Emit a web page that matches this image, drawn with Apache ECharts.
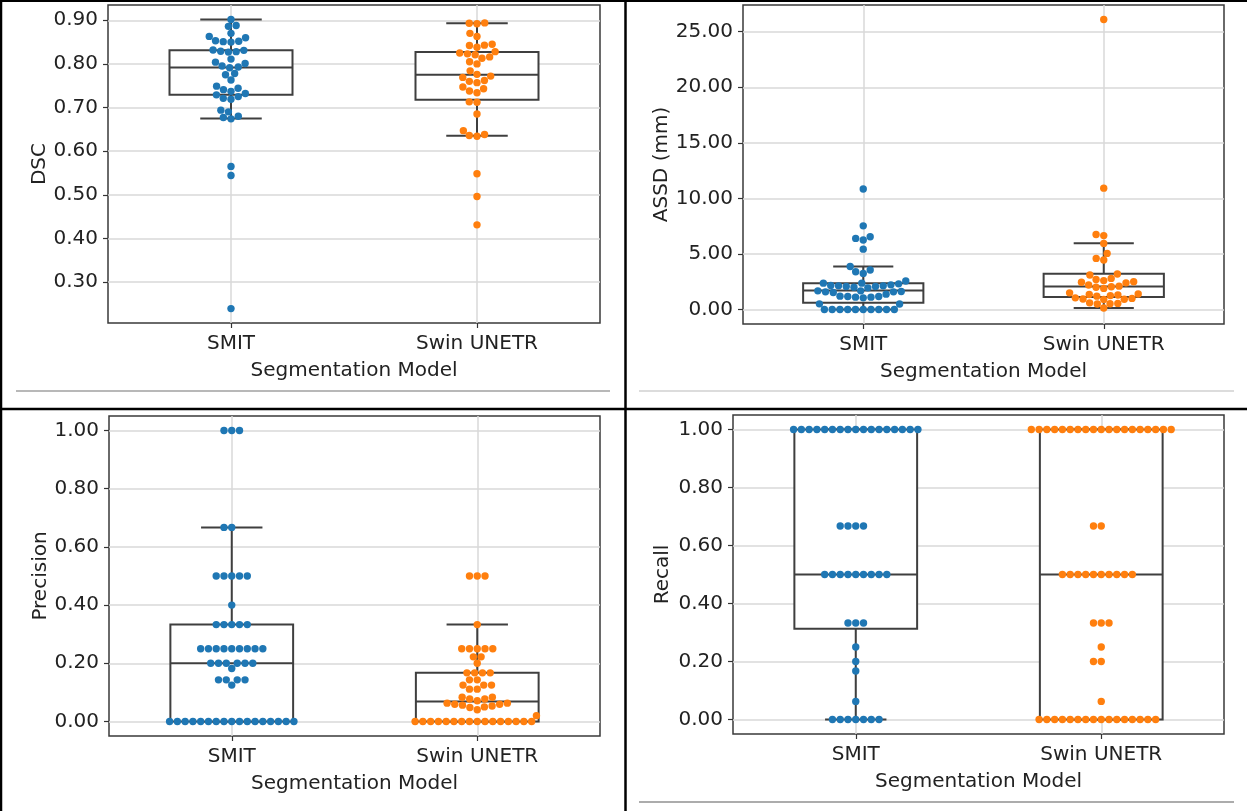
<!DOCTYPE html>
<html>
<head>
<meta charset="utf-8">
<script src="https://cdn.jsdelivr.net/npm/echarts@6/dist/echarts.min.js"></script>
<style>
  html, body { margin: 0; padding: 0; background: #fff; }
  #chart { width: 1247px; height: 811px; }
</style>
</head>
<body>
<div id="chart"></div>
<script>
var categories = ['SMIT', 'Swin UNETR'];

// DSC
var dscSmit = [0.902, 0.888, 0.886, 0.870, 0.863, 0.860, 0.852, 0.851, 0.853, 0.850, 0.831, 0.829, 0.828, 0.827, 0.832,
    0.811, 0.804, 0.801, 0.795, 0.793, 0.791, 0.778, 0.775, 0.763, 0.749, 0.744, 0.741, 0.737, 0.732, 0.729,
    0.725, 0.721, 0.719, 0.694, 0.690, 0.680, 0.677, 0.674, 0.565, 0.544, 0.239];
var dscSwin = [0.894, 0.893, 0.892, 0.870, 0.863, 0.845, 0.843, 0.842, 0.838, 0.828, 0.825, 0.823, 0.821, 0.816, 0.813,
    0.805, 0.800, 0.784, 0.776, 0.772, 0.769, 0.762, 0.760, 0.757, 0.747, 0.743, 0.738, 0.734, 0.713, 0.712,
    0.685, 0.647, 0.638, 0.636, 0.634, 0.548, 0.496, 0.431];
var dscBox = [[0.675, 0.729, 0.792, 0.831, 0.902], [0.635, 0.718, 0.775, 0.827, 0.893]];
var dscTicks = [0.3, 0.4, 0.5, 0.6, 0.7, 0.8, 0.9];

// ASSD (mm)
var assdSmit = [10.85, 7.53, 6.55, 6.40, 6.25, 5.43, 3.87, 3.55, 3.40, 3.25, 2.57, 2.37, 2.31, 2.16, 2.22, 2.37,
    2.13, 2.07, 2.07, 2.01, 2.13, 1.95, 1.38, 1.62, 1.59, 1.53, 1.59, 1.68, 1.68, 1.11, 1.05, 1.11, 1.17, 1.20,
    1.17, 0.51, 0.49, 0, 0, 0, 0, 0, 0, 0, 0, 0, 0];
var assdSwin = [26.10, 10.92, 6.75, 6.65, 5.95, 5.05, 4.60, 4.45, 3.20, 3.10, 2.80, 2.70, 2.60, 2.50, 2.45, 2.40,
    2.20, 2.10, 2.05, 2.00, 1.90, 1.50, 1.40, 1.35, 1.30, 1.25, 1.20, 1.05, 1.00, 0.95, 0.92, 0.90, 0.60, 0.55,
    0.52, 0.50, 0.13];
var assdBox = [[0, 0.60, 1.71, 2.37, 3.87], [0.13, 1.12, 2.07, 3.21, 5.97]];
var assdTicks = [0, 5, 10, 15, 20, 25];

// Precision
var precSmit = [1, 1, 1, 0.667, 0.667, 0.5, 0.5, 0.5, 0.5, 0.5, 0.4, 0.333, 0.333, 0.333, 0.333, 0.333,
    0.25, 0.25, 0.25, 0.25, 0.25, 0.25, 0.25, 0.25, 0.25, 0.2, 0.2, 0.2, 0.2, 0.2, 0.2, 0.182,
    0.143, 0.143, 0.143, 0.143, 0.125,
    0, 0, 0, 0, 0, 0, 0, 0, 0, 0, 0, 0, 0, 0, 0, 0, 0];
var precSwin = [0.5, 0.5, 0.5, 0.333, 0.25, 0.25, 0.25, 0.25, 0.25, 0.222, 0.222, 0.2, 0.167, 0.167, 0.167, 0.167,
    0.143, 0.143, 0.125, 0.125, 0.125, 0.111, 0.111, 0.083, 0.083, 0.077, 0.077, 0.071,
    0.063, 0.063, 0.059, 0.059, 0.056, 0.053, 0.050, 0.048, 0.040, 0.020,
    0, 0, 0, 0, 0, 0, 0, 0, 0, 0, 0, 0, 0, 0, 0, 0];
var precBox = [[0, 0, 0.20, 0.333, 0.667], [0, 0, 0.069, 0.167, 0.333]];
var precTicks = [0, 0.2, 0.4, 0.6, 0.8, 1.0];

// Recall
var recSmit = [1, 1, 1, 1, 1, 1, 1, 1, 1, 1, 1, 1, 1, 1, 1, 1, 1, 0.667, 0.667, 0.667, 0.667,
    0.5, 0.5, 0.5, 0.5, 0.5, 0.5, 0.5, 0.5, 0.5, 0.333, 0.333, 0.333, 0.25, 0.2, 0.167, 0.0625,
    0, 0, 0, 0, 0, 0, 0];
var recSwin = [1, 1, 1, 1, 1, 1, 1, 1, 1, 1, 1, 1, 1, 1, 1, 1, 1, 1, 1, 0.667, 0.667,
    0.5, 0.5, 0.5, 0.5, 0.5, 0.5, 0.5, 0.5, 0.5, 0.5, 0.333, 0.333, 0.333, 0.25, 0.2, 0.2, 0.0625,
    0, 0, 0, 0, 0, 0, 0, 0, 0, 0, 0, 0, 0, 0, 0, 0];
var recBox = [[0, 0.313, 0.5, 1.0, 1.0], [0, 0, 0.5, 1.0, 1.0]];
var recTicks = [0, 0.2, 0.4, 0.6, 0.8, 1.0];

var panels = [
    {name: 'DSC', smit: dscSmit, swin: dscSwin, box: dscBox, ticks: dscTicks, min: 0.206, max: 0.935,
        grid: {left: 108, top: 5, width: 492, height: 318}, nameGap: 58},
    {name: 'ASSD (mm)', smit: assdSmit, swin: assdSwin, box: assdBox, ticks: assdTicks, min: -1.305, max: 27.405,
        grid: {left: 743, top: 5, width: 481, height: 319}, nameGap: 71},
    {name: 'Precision', smit: precSmit, swin: precSwin, box: precBox, ticks: precTicks, min: -0.05, max: 1.05,
        grid: {left: 109, top: 416, width: 491, height: 320}, nameGap: 58},
    {name: 'Recall', smit: recSmit, swin: recSwin, box: recBox, ticks: recTicks, min: -0.05, max: 1.05,
        grid: {left: 733, top: 415, width: 491, height: 319}, nameGap: 60}
];

var BLUE = '#1f77b4', ORANGE = '#ff7f0e';
var TEXT = '#222222', EDGE = '#3f3f3f';
var FONT = 'DejaVu Sans';
var FS = 20;
var DOT = 7.4;

var chart = echarts.init(document.getElementById('chart'));

function renderBox(params, api) {
    var x = api.value(0);
    var lo = api.coord([x, api.value(1)]);
    var q1 = api.coord([x, api.value(2)]);
    var md = api.coord([x, api.value(3)]);
    var q3 = api.coord([x, api.value(4)]);
    var hi = api.coord([x, api.value(5)]);
    var w = api.size([0.5, 0])[0];
    var cx = lo[0];
    var st = {stroke: EDGE, lineWidth: 2, fill: null};
    return {
        type: 'group',
        children: [
            {type: 'line', shape: {x1: cx, y1: q1[1], x2: cx, y2: lo[1]}, style: st},
            {type: 'line', shape: {x1: cx, y1: q3[1], x2: cx, y2: hi[1]}, style: st},
            {type: 'line', shape: {x1: cx - w / 4, y1: lo[1], x2: cx + w / 4, y2: lo[1]}, style: st},
            {type: 'line', shape: {x1: cx - w / 4, y1: hi[1], x2: cx + w / 4, y2: hi[1]}, style: st},
            {type: 'rect', shape: {x: cx - w / 2, y: q3[1], width: w, height: q1[1] - q3[1]},
                style: {fill: '#fff', stroke: EDGE, lineWidth: 2}},
            {type: 'line', shape: {x1: cx - w / 2, y1: md[1], x2: cx + w / 2, y2: md[1]}, style: st}
        ]
    };
}

// seaborn-like beeswarm, done in pixel space then mapped back through the axis
function swarm(values, center, g) {
    var cx = chart.convertToPixel({gridIndex: g}, [center, 0])[0];
    var pxPerUnit = chart.convertToPixel({gridIndex: g}, [center + 1, 0])[0] - cx;
    var pts = values.map(function (v) {
        return {v: v, y: chart.convertToPixel({gridIndex: g}, [center, v])[1], x: cx};
    });
    pts.sort(function (a, b) { return b.y - a.y; });
    var placed = [];
    pts.forEach(function (p) {
        var nb = [];
        for (var j = placed.length - 1; j >= 0; j--) {
            if (placed[j].y - p.y < DOT) nb.push(placed[j]); else break;
        }
        var cands = [cx];
        nb.forEach(function (q) {
            var dy = p.y - q.y;
            var dx = Math.sqrt(Math.max(DOT * DOT - dy * dy, 0)) * 1.05;
            cands.push(q.x - dx, q.x + dx);
        });
        // closest to the middle first, left side wins a tie
        cands.sort(function (a, b) {
            var d = Math.abs(a - cx) - Math.abs(b - cx);
            if (Math.abs(d) > 1e-6) return d;
            return a - b;
        });
        var chosen = cx;
        for (var c = 0; c < cands.length; c++) {
            var ok = nb.every(function (q) {
                var ddx = q.x - cands[c], ddy = q.y - p.y;
                return ddx * ddx + ddy * ddy >= DOT * DOT * 0.999;
            });
            if (ok) { chosen = cands[c]; break; }
        }
        p.x = chosen;
        placed.push(p);
    });
    return pts.map(function (p) {
        var off = (p.x - cx) / pxPerUnit;
        off = Math.max(-0.4, Math.min(0.4, off));
        return [center + off, p.v];
    });
}

function buildOption(swarmData) {
    var grids = [], xAxes = [], yAxes = [], series = [];
    panels.forEach(function (p, g) {
        grids.push({left: p.grid.left, top: p.grid.top, width: p.grid.width, height: p.grid.height,
            show: true, borderColor: '#3a3a3a', borderWidth: 1.5, backgroundColor: 'transparent'});
        xAxes.push({
            type: 'value', gridIndex: g, min: -0.5, max: 1.5,
            name: 'Segmentation Model', nameLocation: 'middle', nameGap: 38,
            nameTextStyle: {fontFamily: FONT, fontSize: FS, color: TEXT},
            axisLine: {show: false, onZero: false},
            axisTick: {show: true, length: 5, customValues: [0, 1], lineStyle: {color: '#333', width: 1.2}},
            axisLabel: {customValues: [0, 1], margin: 11, fontFamily: FONT, fontSize: FS, color: TEXT,
                formatter: function (v) { return categories[Math.round(v)]; }},
            splitLine: {show: true, lineStyle: {color: '#d9d9d9', width: 1.5}}
        });
        yAxes.push({
            type: 'value', gridIndex: g, min: p.min, max: p.max,
            name: p.name, nameLocation: 'middle', nameGap: p.nameGap, nameRotate: 90,
            nameTextStyle: {fontFamily: FONT, fontSize: FS, color: TEXT},
            axisLine: {show: false, onZero: false},
            axisTick: {show: true, length: 5, customValues: p.ticks, lineStyle: {color: '#333', width: 1.2}},
            axisLabel: {customValues: p.ticks, margin: 10, fontFamily: FONT, fontSize: FS, color: TEXT,
                formatter: function (v) { return v.toFixed(2); }},
            splitLine: {show: true, lineStyle: {color: '#d9d9d9', width: 1.5}}
        });
        series.push({
            type: 'custom', xAxisIndex: g, yAxisIndex: g, z: 2, silent: true,
            renderItem: renderBox,
            encode: {x: 0, y: [1, 2, 3, 4, 5]},
            data: p.box.map(function (b, i) { return [i].concat(b); })
        });
        [p.smit, p.swin].forEach(function (vals, i) {
            series.push({
                type: 'scatter', xAxisIndex: g, yAxisIndex: g, z: 3, silent: true,
                symbol: 'circle', symbolSize: DOT,
                itemStyle: {color: i === 0 ? BLUE : ORANGE, opacity: 1},
                data: swarmData ? swarmData[g][i] : vals.map(function (v) { return [i, v]; })
            });
        });
    });
    return {
        backgroundColor: '#fff',
        animation: false,
        grid: grids,
        xAxis: xAxes,
        yAxis: yAxes,
        series: series,
        graphic: [
            {type: 'line', shape: {x1: 0, y1: 1, x2: 1247, y2: 1}, style: {stroke: '#000', lineWidth: 2}},
            {type: 'line', shape: {x1: 1, y1: 0, x2: 1, y2: 811}, style: {stroke: '#000', lineWidth: 2.5}},
            {type: 'line', shape: {x1: 625.5, y1: 0, x2: 625.5, y2: 811}, style: {stroke: '#000', lineWidth: 2.5}},
            {type: 'line', shape: {x1: 0, y1: 409, x2: 1247, y2: 409}, style: {stroke: '#000', lineWidth: 2.5}},
            {type: 'line', shape: {x1: 16, y1: 391, x2: 610, y2: 391}, style: {stroke: '#a0a0a0', lineWidth: 1.5}},
            {type: 'line', shape: {x1: 639, y1: 391, x2: 1234, y2: 391}, style: {stroke: '#d0d0d0', lineWidth: 1.5}},
            {type: 'line', shape: {x1: 639, y1: 802, x2: 1234, y2: 802}, style: {stroke: '#909090', lineWidth: 1.5}}
        ]
    };
}

chart.setOption(buildOption(null));
var swarmData = panels.map(function (p, g) {
    return [swarm(p.smit, 0, g), swarm(p.swin, 1, g)];
});
chart.setOption(buildOption(swarmData), true);
</script>
</body>
</html>
